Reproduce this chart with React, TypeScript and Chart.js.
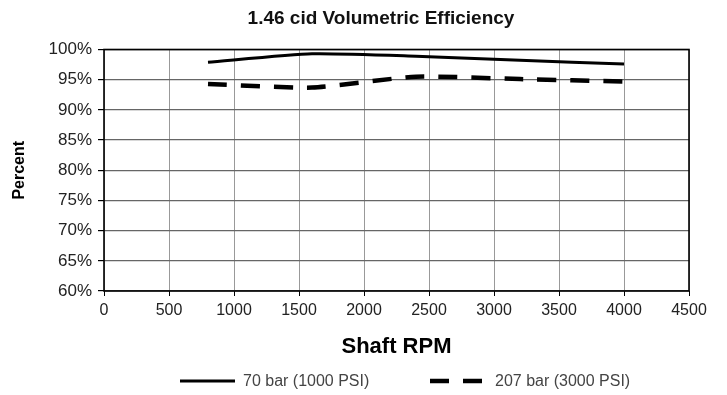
import React, { useEffect, useRef } from "react";
import { Chart, registerables } from "chart.js";

Chart.register(...registerables);

const rpm = [800, 1600, 2400, 3200, 4000];
const bar70 = [97.9, 99.3, 98.9, 98.2, 97.6];
const bar207 = [94.3, 93.7, 95.5, 95.1, 94.7];
const seriesLabels = ["70 bar (1000 PSI)", "207 bar (3000 PSI)"];
const chartTitle = "1.46 cid Volumetric Efficiency";
const xTitle = "Shaft RPM";
const yTitle = "Percent";

const FONT = "'Liberation Sans', Arial, sans-serif";

const framePlugin = {
  id: "frame",
  afterDraw(chart: any) {
    const { ctx, chartArea } = chart;
    const { left, right, top, bottom } = chartArea;
    ctx.save();
    ctx.strokeStyle = "#000";
    ctx.lineWidth = 1.6;
    ctx.setLineDash([]);
    ctx.strokeRect(left, top, right - left, bottom - top);
    // title
    ctx.fillStyle = "#111";
    ctx.font = `bold 19px ${FONT}`;
    ctx.textAlign = "center";
    ctx.textBaseline = "middle";
    ctx.fillText(chartTitle, 381, 19);
    // legend
    const ds = chart.data.datasets;
    const items = [
      { x: 180, w: 55, tx: 243 },
      { x: 430, w: 53, tx: 495 },
    ];
    const ly = 381;
    ctx.font = `16px ${FONT}`;
    ctx.textAlign = "left";
    ds.forEach((d: any, i: number) => {
      const it = items[i];
      ctx.strokeStyle = d.borderColor;
      ctx.lineWidth = d.borderWidth;
      ctx.setLineDash(d.borderDash || []);
      ctx.beginPath();
      ctx.moveTo(it.x, ly);
      ctx.lineTo(it.x + it.w, ly);
      ctx.stroke();
      ctx.setLineDash([]);
      ctx.fillStyle = "#444";
      ctx.fillText(d.label, it.tx, ly + 1);
    });
    ctx.restore();
  },
};

export default function App() {
  const ref = useRef<HTMLCanvasElement>(null);
  useEffect(() => {
    document.body.style.margin = "0";
    const chart = new Chart(ref.current!, {
      type: "line",
      data: {
        datasets: [
          {
            label: seriesLabels[0],
            data: rpm.map((x, i) => ({ x, y: bar70[i] })),
            borderColor: "#000",
            borderWidth: 3,
            pointRadius: 0,
            tension: 0.2,
            fill: false,
          },
          {
            label: seriesLabels[1],
            data: rpm.map((x, i) => ({ x, y: bar207[i] })),
            borderColor: "#000",
            borderWidth: 4.5,
            borderDash: [19, 14],
            pointRadius: 0,
            tension: 0.2,
            fill: false,
          },
        ],
      },
      options: {
        responsive: false,
        animation: false,
        layout: { padding: { top: 49.5, right: 38, left: 0, bottom: 0 } },
        plugins: {
          legend: { display: false },
          title: { display: false },
          tooltip: { enabled: false },
        },
        scales: {
          x: {
            type: "linear",
            min: 0,
            max: 4500,
            ticks: {
              stepSize: 500,
              color: "#222",
              padding: 5,
              maxRotation: 0,
              autoSkip: false,
              font: { family: FONT, size: 16 },
              callback: (v: any) => String(v),
            },
            grid: { color: "#999", lineWidth: 1, tickLength: 5, tickColor: "#000" },
            border: { display: false },
            title: {
              display: true,
              text: xTitle,
              color: "#000",
              font: { family: FONT, size: 22, weight: "bold" },
              padding: { top: 0, bottom: 35 },
            },
            afterFit: (s: any) => {
              s.height = 104;
            },
          },
          y: {
            min: 60,
            max: 100,
            ticks: {
              stepSize: 5,
              color: "#222",
              padding: 6,
              font: { family: FONT, size: 17 },
              callback: (v: any) => v + "%",
            },
            grid: { color: "#666", lineWidth: 1.2, tickLength: 6, tickColor: "#000" },
            border: { display: false },
            title: {
              display: true,
              text: yTitle,
              color: "#000",
              font: { family: FONT, size: 16, weight: "bold" },
              padding: { top: 10, bottom: 0 },
            },
            afterFit: (s: any) => {
              s.width = 104;
            },
          },
        },
      } as any,
      plugins: [framePlugin],
    });
    return () => chart.destroy();
  }, []);
  return <canvas ref={ref} width={727} height={395} style={{ display: "block" }} />;
}
